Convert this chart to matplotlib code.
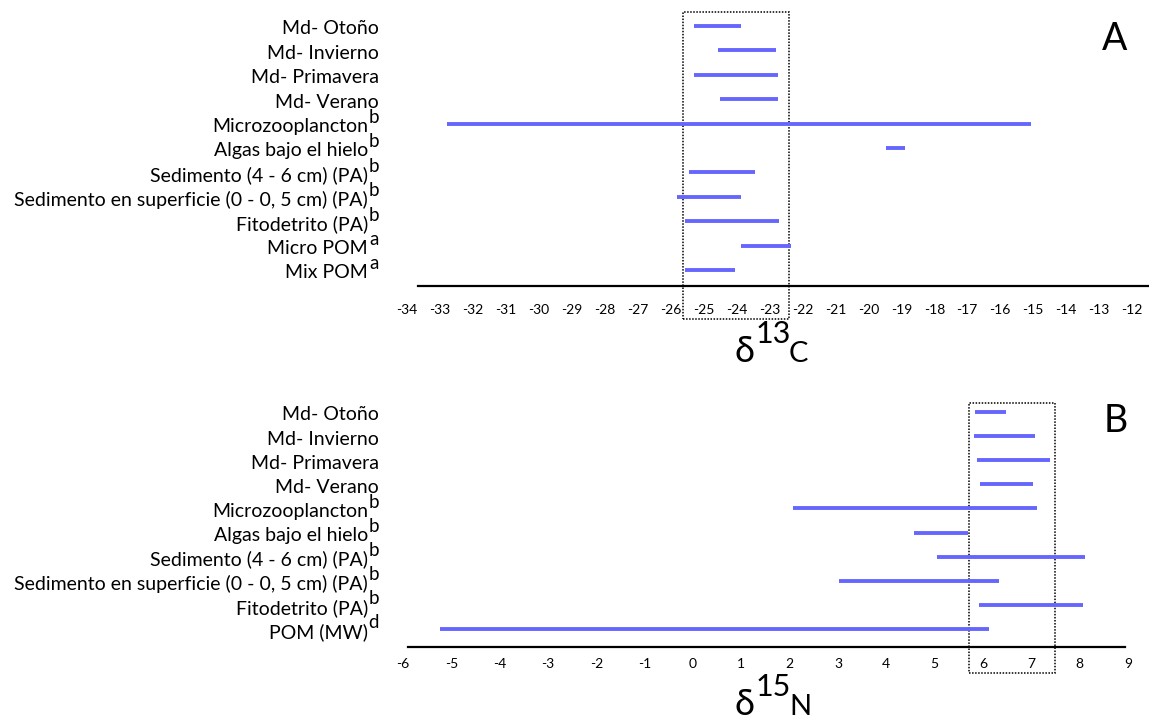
import matplotlib
matplotlib.use("Agg")
import matplotlib.pyplot as plt
from matplotlib.patches import Rectangle
import matplotlib.transforms as mtransforms

plt.rcParams["font.family"] = ["Lato", "DejaVu Sans"]
plt.rcParams["axes.unicode_minus"] = False

# panel A: delta 13C ranges
labels_c13 = [
    "Md- Otoño",
    "Md- Invierno",
    "Md- Primavera",
    "Md- Verano",
    "Microzooplancton",
    "Algas bajo el hielo",
    "Sedimento (4 - 6 cm) (PA)",
    "Sedimento en superficie (0 - 0, 5 cm) (PA)",
    "Fitodetrito (PA)",
    "Micro POM",
    "Mix POM",
]
refs_c13 = ["", "", "", "", "b", "b", "b", "b", "b", "a", "a"]
c13_min = [-25.3, -24.55, -25.3, -24.5, -32.8, -19.45, -25.45, -25.8, -25.55, -23.85, -25.55]
c13_max = [-23.85, -22.8, -22.75, -22.75, -15.05, -18.9, -23.45, -23.85, -22.7, -22.35, -24.05]
c13_ticks = list(range(-34, -11))
box_c13 = (-25.62, -22.41)

# panel B: delta 15N ranges
labels_n15 = [
    "Md- Otoño",
    "Md- Invierno",
    "Md- Primavera",
    "Md- Verano",
    "Microzooplancton",
    "Algas bajo el hielo",
    "Sedimento (4 - 6 cm) (PA)",
    "Sedimento en superficie (0 - 0, 5 cm) (PA)",
    "Fitodetrito (PA)",
    "POM (MW)",
]
refs_n15 = ["", "", "", "", "b", "b", "b", "b", "b", "d"]
n15_min = [5.83, 5.81, 5.88, 5.94, 2.07, 4.57, 5.05, 3.02, 5.92, -5.23]
n15_max = [6.48, 7.08, 7.39, 7.03, 7.12, 5.69, 8.11, 6.33, 8.07, 6.13]
n15_ticks = list(range(-6, 10))
box_n15 = (5.72, 7.5)

BAR = "#6666ff"
W, H = 1149, 723


def px_axes(fig, left, top, right, bottom):
    return fig.add_axes([left / W, 1 - bottom / H, (right - left) / W, (bottom - top) / H])


def panel(ax, labels, refs, lo, hi, ticks, box, xlim, ylim, spine, box_y, pad):
    n = len(labels)
    ys = [n - 1 - i for i in range(n)]
    ax.hlines(ys, lo, hi, color=BAR, lw=2.8, capstyle="butt")
    ax.set_xlim(*xlim)
    ax.set_ylim(*ylim)
    for s in ("top", "right", "left"):
        ax.spines[s].set_visible(False)
    ax.spines["bottom"].set_linewidth(1.6)
    ax.spines["bottom"].set_bounds(*spine)
    ax.set_xticks(ticks)
    ax.set_xticklabels([str(t) for t in ticks], fontsize=10)
    ax.tick_params(axis="x", length=0, pad=pad)
    ax.set_yticks([])

    # category labels with raised reference letters, right edge ~16 px left of the axes
    ytr = ax.get_yaxis_transform()
    for y, lab, ref in zip(ys, labels, refs):
        main_off = -27 if ref else -16
        ax.text(0, y, lab, fontsize=14, ha="right", va="center",
                transform=mtransforms.offset_copy(ytr, fig, x=main_off, y=-3, units="dots"))
        if ref:
            ax.text(0, y, ref, fontsize=13.5, ha="right", va="center",
                    transform=mtransforms.offset_copy(ytr, fig, x=-16, y=6, units="dots"))

    trans = mtransforms.blended_transform_factory(ax.transData, ax.transAxes)
    ax.add_patch(Rectangle((box[0], box_y[0]), box[1] - box[0], box_y[1] - box_y[0],
                           transform=trans, fill=False, ec="black", lw=1.1,
                           ls=(0, (1, 1)), clip_on=False))


fig = plt.figure(figsize=(W / 100, H / 100), dpi=100)

ax1 = px_axes(fig, 395, 5, 1148, 286)
panel(ax1, labels_c13, refs_c13, c13_min, c13_max, c13_ticks, box_c13,
      (-34.364, -11.514), (-0.656, 10.86), (-33.67, -11.51), (-0.117, 0.975), 13)

ax2 = px_axes(fig, 395, 395, 1148, 647)
panel(ax2, labels_n15, refs_n15, n15_min, n15_max, n15_ticks, box_n15,
      (-6.166, 9.414), (-0.747, 9.705), (-5.9, 8.94), (-0.103, 0.968), 8)

fig.text(1102 / W, 1 - 50 / H, "A", fontsize=27, va="baseline")
fig.text(1104 / W, 1 - 432 / H, "B", fontsize=27, va="baseline")

# axis titles: delta + superscript mass + element
for base, sup, el in ((362, "13", "C"), (715, "15", "N")):
    fig.text(734 / W, 1 - base / H, "δ", fontsize=26, va="baseline")
    fig.text(756 / W, 1 - (base - 19) / H, sup, fontsize=22, va="baseline")
    fig.text(789 / W, 1 - base / H, el, fontsize=21, va="baseline")

fig.savefig("out.png", dpi=100)
